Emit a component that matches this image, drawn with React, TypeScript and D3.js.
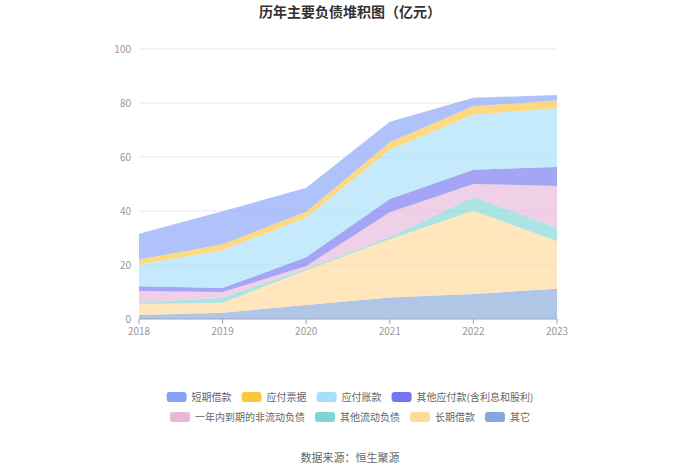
import React from 'react';
import * as d3 from 'd3';

const years = ['2018', '2019', '2020', '2021', '2022', '2023'];

// stacked bottom → top
const qita = [1.5, 2.3, 5.2, 8.0, 9.3, 11.2];
const changqiJiekuan = [4.1, 3.7, 12.9, 21.5, 30.8, 17.6];
const qitaLiudong = [0.4, 1.9, 0.6, 0.9, 5.1, 4.9];
const yinianNei = [4.4, 2.1, 0.9, 9.1, 4.8, 15.6];
const qitaYingfu = [1.7, 1.5, 3.3, 4.9, 5.3, 7.0];
const yingfuZhangkuan = [8.0, 14.0, 14.7, 18.3, 20.4, 21.8];
const yingfuPiaoju = [1.9, 2.2, 2.1, 2.8, 3.1, 2.8];
const duanqiJiekuan = [9.6, 12.2, 8.9, 7.6, 3.1, 2.1];

const yTicks = [0, 20, 40, 60, 80, 100];

const series = [
  { name: '其它', values: qita, color: '#86a7d8' },
  { name: '长期借款', values: changqiJiekuan, color: '#ffd89a' },
  { name: '其他流动负债', values: qitaLiudong, color: '#7fd4d4' },
  { name: '一年内到期的非流动负债', values: yinianNei, color: '#e8b7da' },
  { name: '其他应付款(含利息和股利)', values: qitaYingfu, color: '#7474ef' },
  { name: '应付账款', values: yingfuZhangkuan, color: '#a5dffa' },
  { name: '应付票据', values: yingfuPiaoju, color: '#ffc53d' },
  { name: '短期借款', values: duanqiJiekuan, color: '#85a2f8' },
];

const legendRows = [
  ['短期借款', '应付票据', '应付账款', '其他应付款(含利息和股利)'],
  ['一年内到期的非流动负债', '其他流动负债', '长期借款', '其它'],
];

const W = 700;
const H = 474;
const margin = { top: 49, right: 143, bottom: 155, left: 139 };
const FONT = '"Noto Sans CJK SC", "Noto Sans", sans-serif';

let ctx: CanvasRenderingContext2D | null = null;
function textWidth(s: string, size: number) {
  if (!ctx) ctx = document.createElement('canvas').getContext('2d');
  if (!ctx) return s.length * size;
  ctx.font = `${size}px ${FONT}`;
  return ctx.measureText(s).width;
}

const App: React.FC = () => {
  const innerW = W - margin.left - margin.right;
  const innerH = H - margin.top - margin.bottom;

  const x = d3.scalePoint<string>().domain(years).range([0, innerW]);
  const y = d3.scaleLinear().domain([0, 100]).range([innerH, 0]);

  const table = years.map((yr, i) => {
    const row: { [k: string]: number | string } = { year: yr };
    series.forEach(s => { row[s.name] = s.values[i]; });
    return row;
  });

  const stack = d3.stack<any>().keys(series.map(s => s.name));
  const layers = stack(table as any);

  const area = d3.area<any>()
    .x(d => x(d.data.year) || 0)
    .y0(d => y(d[0]))
    .y1(d => y(d[1]));

  const colorOf = (name: string) => series.find(s => s.name === name)!.color;

  const swW = 20, swH = 10, swGap = 5, itemGap = 10, legFont = 10;
  const legendY = [397, 417];

  return (
    <div style={{ position: 'fixed', left: 0, top: 0 }}>
      <svg width={W} height={H} style={{ display: 'block', background: '#fff' }} fontFamily={FONT}>
        <text x={W / 2} y={17} textAnchor="middle" fontSize={14} fontWeight="bold" fill="#333">
          历年主要负债堆积图（亿元）
        </text>
        <g transform={`translate(${margin.left},${margin.top})`}>
          {yTicks.map(t => (
            <g key={t}>
              {t > 0 && <line x1={0} x2={innerW} y1={y(t)} y2={y(t)} stroke="#e6e9f0" strokeWidth={1} />}
              <text x={-8} y={y(t)} dy="0.35em" textAnchor="end" fontSize={10} fill="#999">{t}</text>
            </g>
          ))}
          {layers.map(layer => (
            <path key={layer.key} d={area(layer) || ''} fill={colorOf(layer.key)} fillOpacity={0.65} stroke="none" />
          ))}
          <line x1={0} x2={innerW} y1={innerH} y2={innerH} stroke="#9aa6bf" strokeWidth={1} />
          {years.map(yr => (
            <g key={yr} transform={`translate(${x(yr)},${innerH})`}>
              <line y1={0} y2={5} stroke="#9aa6bf" />
              <text y={16} fontSize={10} fill="#999" textAnchor="middle">{yr}</text>
            </g>
          ))}
        </g>
        {legendRows.map((row, ri) => {
          const widths = row.map(n => swW + swGap + textWidth(n, legFont));
          const total = widths.reduce((a, b) => a + b, 0) + itemGap * (row.length - 1);
          let cx = W / 2 - total / 2;
          return (
            <g key={ri}>
              {row.map((n, i) => {
                const gx = cx;
                cx += widths[i] + itemGap;
                return (
                  <g key={n} transform={`translate(${gx},${legendY[ri]})`}>
                    <rect x={0} y={-swH / 2} width={swW} height={swH} rx={3} fill={colorOf(n)} />
                    <text x={swW + swGap} y={0} dy="0.35em" fontSize={legFont} fill="#666">{n}</text>
                  </g>
                );
              })}
            </g>
          );
        })}
        <text x={W / 2} y={462} textAnchor="middle" fontSize={11} fill="#666">数据来源：恒生聚源</text>
      </svg>
    </div>
  );
};

export default App;
